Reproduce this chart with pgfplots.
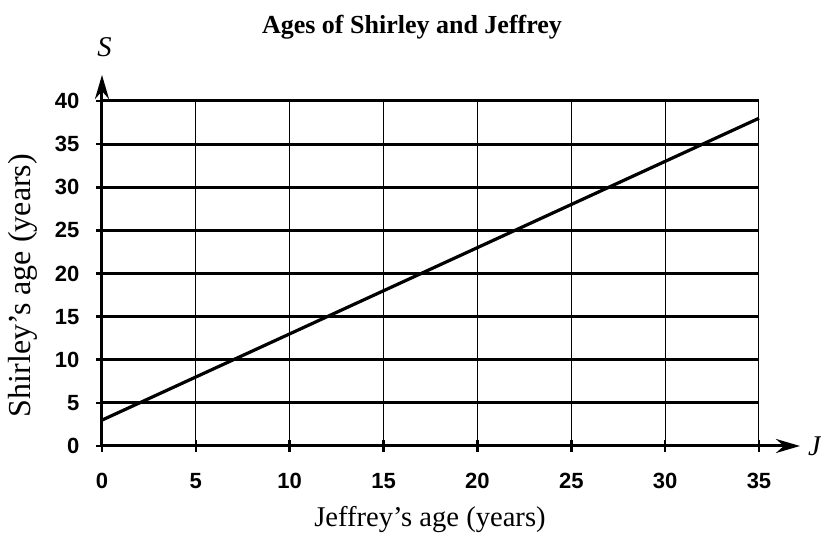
\documentclass[border=0pt]{standalone}
\usepackage{fontspec}
\setmainfont{Liberation Serif}
\newfontfamily\ticksans{Liberation Sans}
\usepackage{pgfplots}
\pgfplotsset{compat=1.18}
\usetikzlibrary{arrows.meta}
\begin{document}
\begin{tikzpicture}
\begin{axis}[
  at={(0,0)}, anchor=origin,
  scale only axis,
  width=328.5pt, height=172.5pt,
  xmin=0, xmax=35, ymin=0, ymax=40,
  xtick={0,5,...,35}, ytick={0,5,...,40},
  axis lines=left,
  axis line style={line width=1.5pt},
  x axis line style={-{Stealth[length=12pt,width=7pt]}, shorten >=-20.5pt},
  y axis line style={-{Stealth[length=12pt,width=7pt]}, shorten >=-13pt},
  grid=major,
  x grid style={line width=0.5pt, black},
  y grid style={line width=1.5pt, black},
  tick align=center,
  major tick length=6pt,
  tick style={line width=1.3pt, black},
  xticklabel style={font=\fontsize{11}{12}\selectfont\ticksans\bfseries, yshift=-7pt},
  yticklabel style={font=\fontsize{11}{12}\selectfont\ticksans\bfseries, xshift=-4.8pt},
  /pgf/number format/assume math mode=true,
  clip=false,
]
\addplot[line width=1.6pt, black] coordinates {(0,3) (35,38)};
\end{axis}
\node[font=\fontsize{13}{15}\selectfont\bfseries, anchor=base] at (155pt,206pt) {Ages of Shirley and Jeffrey};
\node[font=\fontsize{14.3}{16}\selectfont\itshape, anchor=base] at (1.25pt,194.5pt) {S};
\node[font=\fontsize{14.3}{16}\selectfont\itshape, anchor=base west] at (349.5pt,-5pt) {J};
\node[font=\fontsize{14.3}{16}\selectfont, anchor=base] at (164pt,-40.5pt) {Jeffrey’s age (years)};
\node[font=\fontsize{16}{18}\selectfont, rotate=90, anchor=base] at (-35.5pt,80.25pt) {Shirley’s age (years)};
\pgfresetboundingbox
\path[use as bounding box] (-51pt,-44pt) rectangle (359.5pt,223pt);
\end{tikzpicture}
\end{document}
